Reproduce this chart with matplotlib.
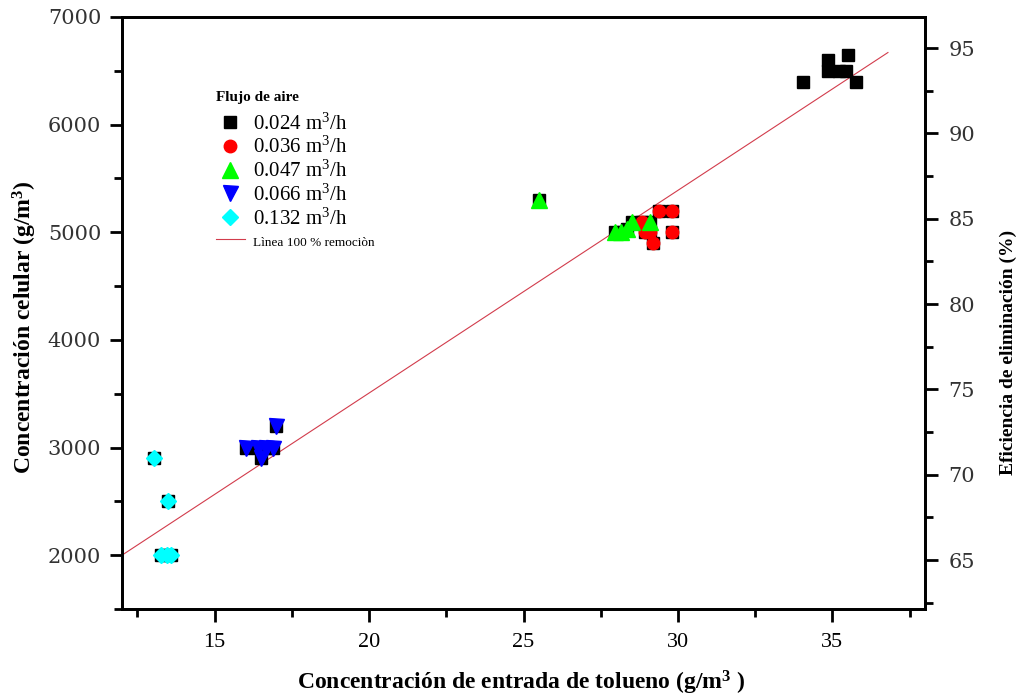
import matplotlib
matplotlib.use("Agg")
import matplotlib.pyplot as plt
from matplotlib.ticker import MultipleLocator
from matplotlib.lines import Line2D

plt.rcParams['mathtext.fontset'] = 'custom'
plt.rcParams['mathtext.rm'] = 'Liberation Serif'
plt.rcParams['mathtext.bf'] = 'Liberation Serif:bold'
plt.rcParams['mathtext.it'] = 'Liberation Serif:italic'
plt.rcParams['font.family'] = ['Liberation Serif', 'DejaVu Serif']

# ---- data ----
x_024 = [34.05, 34.85, 34.85, 35.2, 35.45, 35.5, 35.75]
y_024 = [6400, 6600, 6500, 6500, 6500, 6650, 6400]

x_036 = [29.4, 29.8, 28.85, 28.95, 29.1, 29.8, 29.2]
y_036 = [5200, 5200, 5100, 5000, 5000, 5000, 4900]

x_047 = [25.5, 27.95, 28.15, 28.35, 28.5, 29.1]
y_047 = [5300, 5000, 5000, 5030, 5100, 5100]

x_066 = [16.0, 16.4, 16.65, 16.9, 17.0, 16.5]
y_066 = [3000, 3000, 3000, 3000, 3200, 2900]

x_132 = [13.05, 13.5, 13.25, 13.45, 13.6]
y_132 = [2900, 2500, 2000, 2000, 2000]

line_x = [12.0, 36.8]
line_y = [2000, 6670]

labels = ["0.024 m$^{3}$/h", "0.036 m$^{3}$/h", "0.047 m$^{3}$/h",
          "0.066 m$^{3}$/h", "0.132 m$^{3}$/h"]
line_label = "Lìnea 100 % remociòn"
legend_title = "Flujo de aire"

xlabel = "Concentración de entrada de tolueno (g/m$^{\\mathbf{3}}$ )"
ylabel = "Concentración celular (g/m$^{\\mathbf{3}}$)"
y2label = "Eficiencia de eliminación (%)"

# ---- figure ----
W, H = 1021, 696
fig = plt.figure(figsize=(W / 100, H / 100), dpi=100)
ax = fig.add_axes([122 / W, 1 - 609 / H, (925 - 122) / W, (609 - 17) / H])

ax.plot(line_x, line_y, color="#d23c4c", lw=0.8, zorder=2)

ms = 9
series = [(x_024, y_024, 's', 'black', ms * 0.95),
          (x_036, y_036, 'o', '#ff0000', ms),
          (x_047, y_047, '^', '#00ff00', ms * 1.25),
          (x_066, y_066, 'v', '#0000ff', ms * 1.2),
          (x_132, y_132, 'D', '#00ffff', ms * 0.85)]

handles = []
for i, (xs, ys, m, c, s) in enumerate(series):
    if i > 0:
        ax.plot(xs, ys, linestyle='none', marker='s', color='black',
                markersize=ms * 0.95, zorder=3)
    ax.plot(xs, ys, linestyle='none', marker=m, color=c, markeredgecolor=c,
            markersize=s, zorder=4)
    handles.append(Line2D([], [], linestyle='none', marker=m, color=c,
                          markersize=s))
handles.append(Line2D([], [], color="#d23c4c", lw=0.8))

ax.set_xlim(12, 38)
ax.set_ylim(1500, 7000)
ax.xaxis.set_major_locator(MultipleLocator(5))
ax.xaxis.set_minor_locator(MultipleLocator(2.5))
ax.yaxis.set_major_locator(MultipleLocator(1000))
ax.yaxis.set_minor_locator(MultipleLocator(500))

for sp in ax.spines.values():
    sp.set_linewidth(2)
ax.tick_params(axis='both', which='major', direction='out', length=9, width=2)
ax.tick_params(axis='both', which='minor', direction='out', length=5.5, width=2)
ax.tick_params(axis='x', pad=8.5, labelsize=16, labelfontfamily="Liberation Serif")
ax.tick_params(axis='y', pad=6, labelsize=15, labelfontfamily="DejaVu Serif",
               labelcolor="#333333")

ax2 = ax.twinx()
ax2.set_ylim(62.13, 96.82)
ax2.yaxis.set_major_locator(MultipleLocator(5))
ax2.yaxis.set_minor_locator(MultipleLocator(2.5))
for sp in ax2.spines.values():
    sp.set_linewidth(2)
ax2.tick_params(axis='y', which='major', direction='out', length=9, width=2,
                pad=8, labelsize=15, labelfontfamily="DejaVu Serif",
                labelcolor="#333333")
ax2.tick_params(axis='y', which='minor', direction='out', length=5.5, width=2)

fig.text(521 / W, 1 - 683 / H, xlabel, fontweight='bold', fontsize=17,
         ha='center', va='center')
fig.text(25 / W, 1 - 327 / H, ylabel, fontweight='bold', fontsize=17,
         ha='center', va='center', rotation=90)
fig.text(1008 / W, 1 - 352 / H, y2label, fontweight='bold', fontsize=14,
         ha='center', va='center', rotation=90)

leg = ax.legend(handles, labels + [line_label], title=legend_title,
                loc='upper left', bbox_to_anchor=(201 / W, 1 - 76 / H),
                bbox_transform=fig.transFigure, frameon=False,
                prop={'family': 'Liberation Serif', 'size': 15},
                labelspacing=0.12, handlelength=1.4, handletextpad=0.4,
                borderpad=0.2)
leg._legend_box.align = "left"
leg._legend_box.sep = 7
leg.get_title().set_fontweight('bold')
leg.get_title().set_fontsize(11)
leg.get_texts()[-1].set_fontsize(9.5)
leg.set_zorder(10)

fig.savefig("out.png", dpi=100)
